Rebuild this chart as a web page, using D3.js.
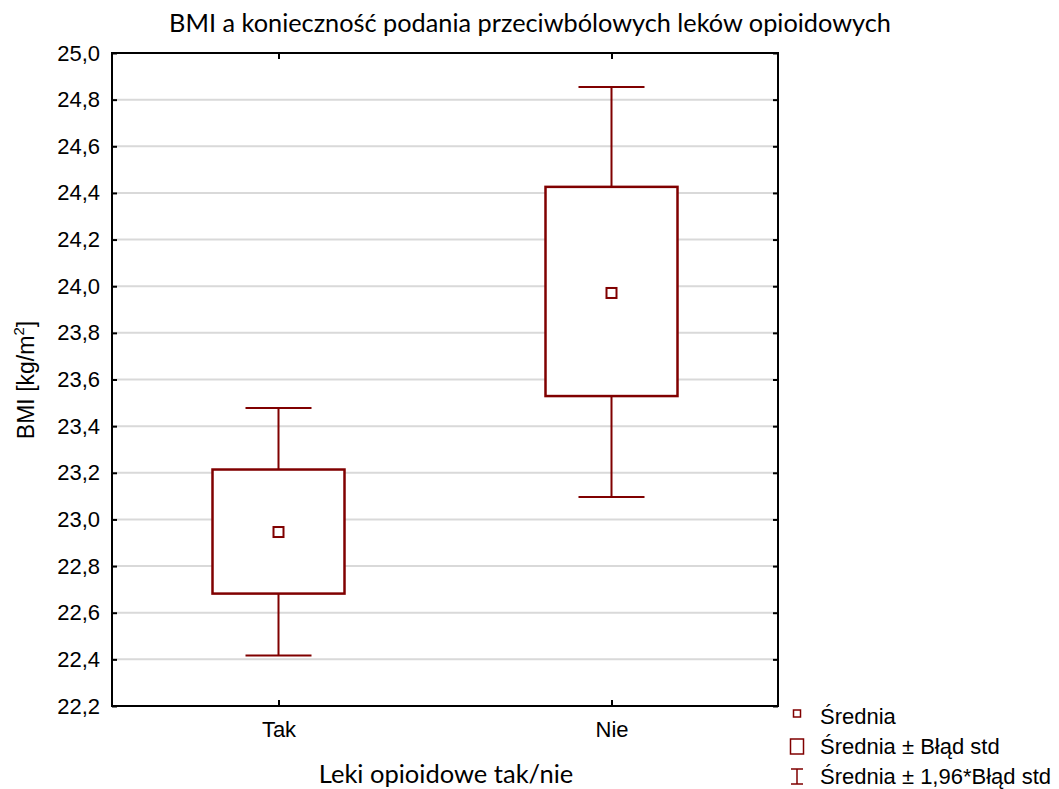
<!DOCTYPE html>
<html>
<head>
<meta charset="utf-8">
<script src="https://cdn.jsdelivr.net/npm/d3@7"></script>
<style>
  body { margin: 0; background: #fff; }
  text { font-family: "Liberation Sans", Arial, sans-serif; }
</style>
</head>
<body>
<div id="chart"></div>
<script>
// data
const categories = ["Tak", "Nie"]
const means = [22.946, 23.971]
const seLow = [22.682, 23.529]
const seHigh = [23.214, 24.426]
const ciLow = [22.417, 23.096]
const ciHigh = [23.478, 24.854]
const yTicks = [22.2, 22.4, 22.6, 22.8, 23.0, 23.2, 23.4, 23.6, 23.8, 24.0, 24.2, 24.4, 24.6, 24.8, 25.0]
const legendLabels = ["Średnia", "Średnia ± Błąd std", "Średnia ± 1,96*Błąd std"]

const red = "#800000"
const margin = ({ top: 53, right: 281, bottom: 83, left: 112 })
const W = 1059, H = 789
const width = W - margin.left - margin.right,
    height = H - margin.top - margin.bottom

let svg = d3.select("#chart").append("svg")
    .attr("width", W)
    .attr("height", H)

let g = svg.append("g")
    .attr("transform", "translate(" + margin.left + "," + margin.top + ")")

let xScale = d3.scalePoint()
    .domain(categories)
    .range([0, width])
    .padding(0.5)

let yScale = d3.scaleLinear()
    .domain([22.2, 25.0])
    .range([height, 0])

// grid
g.selectAll(".grid")
    .data(yTicks.slice(1, -1))
    .join("line")
    .attr("class", "grid")
    .attr("x1", 0).attr("x2", width)
    .attr("y1", d => yScale(d)).attr("y2", d => yScale(d))
    .attr("stroke", "#d9d9d9")
    .attr("stroke-width", 2)

// y axis
let yAxis = d3.axisLeft(yScale)
    .tickValues(yTicks)
    .tickFormat(d => d3.format(".1f")(d).replace(".", ","))
    .tickSize(5)

g.append("g")
    .attr("class", "axis y-axis")
    .call(yAxis)
    .call(a => a.select(".domain").remove())
    .call(a => a.selectAll("line").attr("stroke-width", 2).attr("transform", "translate(5,0)"))
    .call(a => a.selectAll("text").attr("font-size", 22).attr("fill", "#000").attr("x", -12))

// right inner ticks
g.append("g")
    .attr("transform", `translate(${width},0)`)
    .call(d3.axisLeft(yScale).tickValues(yTicks).tickSize(5).tickFormat(""))
    .call(a => a.select(".domain").remove())
    .call(a => a.selectAll("line").attr("stroke-width", 2))

// x axis
let xAxis = d3.axisBottom(xScale).tickSize(6)
g.append("g")
    .attr("class", "axis x-axis")
    .attr("transform", `translate(0, ${height})`)
    .call(xAxis)
    .call(a => a.select(".domain").remove())
    .call(a => a.selectAll("line").attr("stroke-width", 2).attr("transform", "translate(0,-6)"))
    .call(a => a.selectAll("text").attr("font-size", 22).attr("fill", "#000").attr("y", 15))

// top inner ticks
g.append("g")
    .call(d3.axisBottom(xScale).tickSize(6).tickFormat(""))
    .call(a => a.select(".domain").remove())
    .call(a => a.selectAll("line").attr("stroke-width", 2))

// frame
g.append("rect")
    .attr("width", width).attr("height", height)
    .attr("fill", "none").attr("stroke", "#000").attr("stroke-width", 2)

// whiskers, boxes, means
const boxW = 132, capW = 66, meanS = 10
let groups = g.selectAll(".cat")
    .data(categories)
    .join("g")
    .attr("class", "cat")

groups.append("line")
    .attr("x1", d => xScale(d)).attr("x2", d => xScale(d))
    .attr("y1", (d, i) => yScale(ciHigh[i])).attr("y2", (d, i) => yScale(ciLow[i]))
    .attr("stroke", red).attr("stroke-width", 2)

groups.selectAll(".cap")
    .data((d, i) => [{ x: xScale(d), v: ciHigh[i] }, { x: xScale(d), v: ciLow[i] }])
    .join("line")
    .attr("class", "cap")
    .attr("x1", d => d.x - capW / 2).attr("x2", d => d.x + capW / 2)
    .attr("y1", d => yScale(d.v)).attr("y2", d => yScale(d.v))
    .attr("stroke", red).attr("stroke-width", 2)

groups.append("rect")
    .attr("x", d => xScale(d) - boxW / 2)
    .attr("y", (d, i) => yScale(seHigh[i]))
    .attr("width", boxW)
    .attr("height", (d, i) => yScale(seLow[i]) - yScale(seHigh[i]))
    .attr("fill", "#fff").attr("stroke", red).attr("stroke-width", 2.5)

groups.append("rect")
    .attr("x", d => xScale(d) - meanS / 2)
    .attr("y", (d, i) => yScale(means[i]) - meanS / 2)
    .attr("width", meanS).attr("height", meanS)
    .attr("fill", "#fff").attr("stroke", red).attr("stroke-width", 2)

// titles
svg.append("text")
    .attr("x", 530).attr("y", 32)
    .attr("text-anchor", "middle")
    .style("font-family", "Lato, 'Open Sans', sans-serif")
    .attr("font-size", 25.3)
    .text("BMI a konieczność podania przeciwbólowych leków opioidowych")

svg.append("text")
    .attr("x", 446).attr("y", 783)
    .attr("text-anchor", "middle")
    .style("font-family", "Lato, 'Open Sans', sans-serif")
    .attr("font-size", 25.5)
    .text("Leki opioidowe tak/nie")

let yl = svg.append("text")
    .attr("transform", "translate(34,380) rotate(-90)")
    .attr("text-anchor", "middle")
    .attr("font-size", 23)
yl.append("tspan").text("BMI [kg/m")
yl.append("tspan").attr("font-size", 15).attr("dy", -10).text("2")
yl.append("tspan").attr("dy", 10).text("]")

// legend
let leg = svg.append("g").attr("transform", "translate(797,716)")
let rows = leg.selectAll("g")
    .data(legendLabels)
    .join("g")
    .attr("transform", (d, i) => `translate(0, ${i * 30})`)

rows.append("text")
    .attr("x", 23).attr("y", 8)
    .attr("font-size", 22)
    .text(d => d)

rows.filter((d, i) => i === 0).append("rect")
    .attr("x", -3.5).attr("y", -6).attr("width", 7).attr("height", 7)
    .attr("fill", "#fff").attr("stroke", red).attr("stroke-width", 1.5)
rows.filter((d, i) => i === 1).append("rect")
    .attr("x", -6.5).attr("y", -7).attr("width", 13).attr("height", 15)
    .attr("fill", "#fff").attr("stroke", red).attr("stroke-width", 1.5)
rows.filter((d, i) => i === 2).append("path")
    .attr("d", "M-6,-7H6M0,-7V8M-6,8H6")
    .attr("fill", "none").attr("stroke", red).attr("stroke-width", 1.5)
</script>
</body>
</html>
